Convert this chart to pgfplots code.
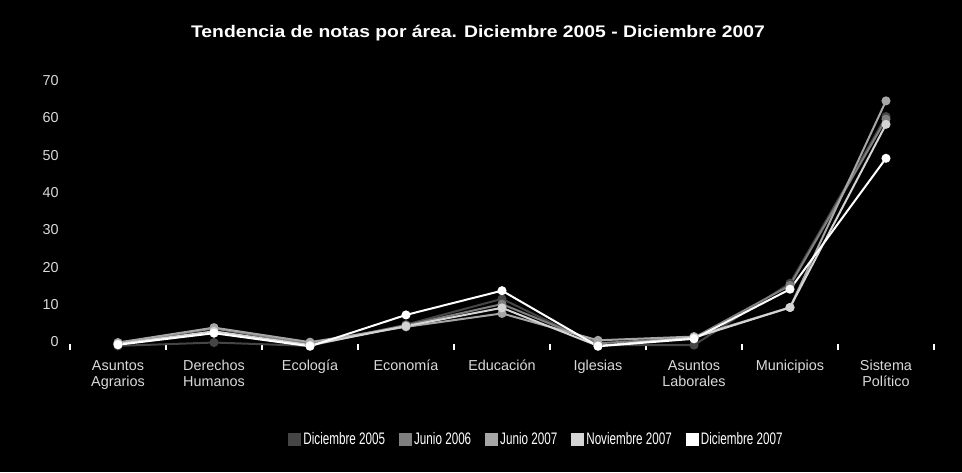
\documentclass[border=0pt]{standalone}
\usepackage{pgfplots}
\pgfplotsset{compat=1.18}
\usepackage{fontspec}
\setmainfont{Liberation Sans}
\definecolor{cA}{HTML}{454545}
\definecolor{cB}{HTML}{7F7F7F}
\definecolor{cC}{HTML}{A6A6A6}
\definecolor{cD}{HTML}{D4D4D4}
\definecolor{cE}{HTML}{FFFFFF}
\definecolor{lbl}{HTML}{DADADA}
\begin{document}
\begin{tikzpicture}
\fill[black] (-52.5pt,-93.75pt) rectangle (669pt,260.25pt);
\begin{axis}[
  scale only axis,
  width=648pt, height=201.4pt,
  xmin=-0.5, xmax=8.5, ymin=0, ymax=72,
  axis line style={draw=none},
  xtick pos=bottom, ytick pos=left,
  xtick={0,...,8},
  xticklabels={{Asuntos\\Agrarios},{Derechos\\Humanos},{Ecología},{Economía},{Educación},{Iglesias},{Asuntos\\Laborales},{Municipios},{Sistema\\Político}},
  x tick label style={align=center, font=\fontsize{10.8}{12}\selectfont, text=lbl, yshift=-6.5pt},
  xtick style={draw=none},
  extra x ticks={-0.5,0.5,...,8.5},
  extra x tick labels={},
  extra x tick style={xtick style={draw=white, line width=1.5pt}, major tick length=4pt, tick align=center},
  ytick={0,10,...,70},
  ytick style={draw=none},
  y tick label style={font=\fontsize{10.8}{12}\selectfont, text=lbl, yshift=4pt, xshift=-5pt},
  /pgf/number format/assume math mode=true,
  legend columns=5,
  legend style={at={(0.54,-0.346)}, anchor=center, fill=none, draw=none, text=white,
    font=\fontsize{12.5}{14}\selectfont,
    nodes={inner xsep=1.5pt},
    /tikz/every even column/.append style={column sep=9pt}},
  legend image code/.code={\fill[#1,draw=none] (0pt,-4.9pt) rectangle (9.75pt,4.9pt);},
  every axis plot/.append style={line width=1.5pt, mark=*, mark size=2.6pt},
  clip=false,
]
\addplot[color=cA, mark options={fill=cA,draw=cA}] coordinates {(0,0.3) (1,1.2) (2,0.3) (3,6.0) (4,12.9) (5,0.5) (6,0.5) (7,17.1) (8,61.8)};
\addlegendentry{\scalebox{0.7}[1]{Diciembre 2005}}
\addplot[color=cB, mark options={fill=cB,draw=cB}] coordinates {(0,1.0) (1,5.0) (2,0.8) (3,5.8) (4,11.5) (5,1.0) (6,2.5) (7,16.5) (8,61.1)};
\addlegendentry{\scalebox{0.7}[1]{Junio 2006}}
\addplot[color=cC, mark options={fill=cC,draw=cC}] coordinates {(0,1.2) (1,5.2) (2,1.3) (3,5.4) (4,9.0) (5,1.8) (6,2.8) (7,10.6) (8,66.0)};
\addlegendentry{\scalebox{0.7}[1]{Junio 2007}}
\addplot[color=cD, mark options={fill=cD,draw=cD}] coordinates {(0,0.8) (1,4.2) (2,0.5) (3,5.6) (4,10.5) (5,0.3) (6,2.5) (7,10.6) (8,59.7)};
\addlegendentry{\scalebox{0.7}[1]{Noviembre 2007}}
\addplot[color=cE, mark options={fill=cE,draw=cE}] coordinates {(0,0.6) (1,3.7) (2,0.2) (3,8.6) (4,15.1) (5,0.2) (6,2.2) (7,15.5) (8,50.6)};
\addlegendentry{\scalebox{0.7}[1]{Diciembre 2007}}
\end{axis}
\node[text=white, font=\bfseries\fontsize{12.6}{14}\selectfont] at (306pt,235.5pt) {\scalebox{1.15}[1]{Tendencia de notas por área. Diciembre 2005 - Diciembre 2007}};
\end{tikzpicture}
\end{document}
